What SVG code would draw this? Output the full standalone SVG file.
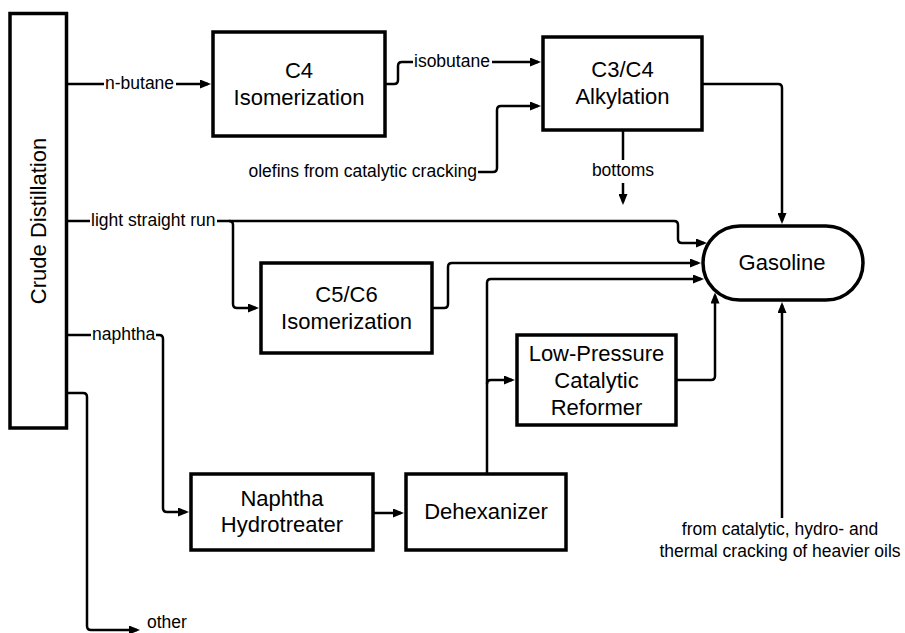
<svg xmlns="http://www.w3.org/2000/svg" width="905" height="633" viewBox="0 0 905 633">
  <style>
    .unit { fill: #ffffff; stroke: #000000; stroke-width: 3.5; }
    .name { font-family: "Liberation Sans", Arial, sans-serif; font-size: 22px; fill: #000000; text-anchor: middle; }
    .flow { fill: none; stroke: #000000; stroke-width: 2.5; stroke-linejoin: round; }
    .arrow { marker-end: url(#head); }
    .lbl { font-family: "Liberation Sans", Arial, sans-serif; font-size: 17.5px; fill: #000000; }
  </style>
  <defs>
    <marker id="head" markerUnits="userSpaceOnUse" markerWidth="11" markerHeight="9" refX="8" refY="4.5" orient="auto">
      <path d="M0,0 L11,4.5 L0,9 z" fill="#000000"/>
    </marker>
  </defs>
  <rect width="905" height="633" fill="#ffffff"/>

  <!-- process streams -->
  <g id="connectors">
    <!-- n-butane -->
    <path class="flow" d="M66,84 H104"/>
    <path class="flow arrow" d="M176,84 H208"/>
    <!-- isobutane -->
    <path class="flow" d="M385,84 H394 Q398,84 398,80 V66 Q398,62 402,62 H413"/>
    <path class="flow arrow" d="M492,62 H538"/>
    <!-- olefins -->
    <path class="flow arrow" d="M478,172 H493 Q497,172 497,168 V110 Q497,106 501,106 H538"/>
    <!-- alkylate to gasoline -->
    <path class="flow arrow" d="M702,84 H778 Q782,84 782,88 V221"/>
    <!-- bottoms -->
    <path class="flow" d="M623,131 V160"/>
    <path class="flow arrow" d="M623,183 V202"/>
    <!-- light straight run -->
    <path class="flow" d="M66,221 H90"/>
    <path class="flow arrow" d="M217,221 H674 Q678,221 678,225 V239 Q678,243 682,243 H704"/>
    <path class="flow arrow" d="M229,221 Q233,221 233,225 V304 Q233,308 237,308 H256"/>
    <!-- isomerate to gasoline -->
    <path class="flow arrow" d="M432,308 H444 Q448,308 448,304 V267 Q448,263 452,263 H698"/>
    <!-- dehexanizer overhead -->
    <path class="flow arrow" d="M487,474 V283 Q487,279 491,279 H701"/>
    <path class="flow arrow" d="M487,384 Q487,380 491,380 H512"/>
    <!-- reformate to gasoline -->
    <path class="flow arrow" d="M676,380 H711 Q715,380 715,376 V295.5"/>
    <!-- cracked stocks -->
    <path class="flow arrow" d="M782,518 V305"/>
    <!-- naphtha -->
    <path class="flow" d="M66,335 H91"/>
    <path class="flow arrow" d="M156,335 H159 Q163,335 163,339 V508 Q163,512 167,512 H186"/>
    <!-- hydrotreater to dehexanizer -->
    <path class="flow arrow" d="M373,513 H401"/>
    <!-- other -->
    <path class="flow arrow" d="M66,393 H83 Q87,393 87,397 V626 Q87,630 91,630 H137"/>
  </g>

  <!-- stream labels -->
  <g id="labels">
    <text class="lbl" x="105" y="89">n-butane</text>
    <text class="lbl" x="414" y="67">isobutane</text>
    <text class="lbl" x="477" y="177" text-anchor="end">olefins from catalytic cracking</text>
    <text class="lbl" x="623" y="176" text-anchor="middle">bottoms</text>
    <text class="lbl" x="91" y="226">light straight run</text>
    <text class="lbl" x="92" y="340">naphtha</text>
    <text class="lbl" x="780" y="535" text-anchor="middle">from catalytic, hydro- and</text>
    <text class="lbl" x="780" y="557" text-anchor="middle">thermal cracking of heavier oils</text>
    <text class="lbl" x="147" y="628">other</text>
  </g>

  <g id="crude-distillation">
    <rect class="unit" x="10" y="13.5" width="56.5" height="414.5"/>
    <text class="name" transform="translate(46,221) rotate(-90)">Crude Distillation</text>
  </g>

  <g id="c4-isomerization">
    <rect class="unit" x="213" y="32" width="172" height="104"/>
    <text class="name" x="299" y="77.5">C4</text>
    <text class="name" x="299" y="104.5">Isomerization</text>
  </g>

  <g id="alkylation">
    <rect class="unit" x="543" y="37" width="159" height="93"/>
    <text class="name" x="622.5" y="77">C3/C4</text>
    <text class="name" x="622.5" y="104">Alkylation</text>
  </g>

  <g id="c5c6-isomerization">
    <rect class="unit" x="261" y="263" width="171" height="90"/>
    <text class="name" x="346.5" y="301.5">C5/C6</text>
    <text class="name" x="346.5" y="328.5">Isomerization</text>
  </g>

  <g id="reformer">
    <rect class="unit" x="517" y="335" width="159" height="90"/>
    <text class="name" x="596.5" y="361">Low-Pressure</text>
    <text class="name" x="596.5" y="388">Catalytic</text>
    <text class="name" x="596.5" y="415">Reformer</text>
  </g>

  <g id="naphtha-hydrotreater">
    <rect class="unit" x="191" y="474" width="182" height="76"/>
    <text class="name" x="282" y="505.5">Naphtha</text>
    <text class="name" x="282" y="532">Hydrotreater</text>
  </g>

  <g id="dehexanizer">
    <rect class="unit" x="406" y="474" width="160" height="76"/>
    <text class="name" x="486" y="519">Dehexanizer</text>
  </g>

  <g id="gasoline">
    <rect class="unit" x="703" y="226" width="160" height="74" rx="37" ry="37"/>
    <text class="name" x="782" y="270">Gasoline</text>
  </g>
</svg>
